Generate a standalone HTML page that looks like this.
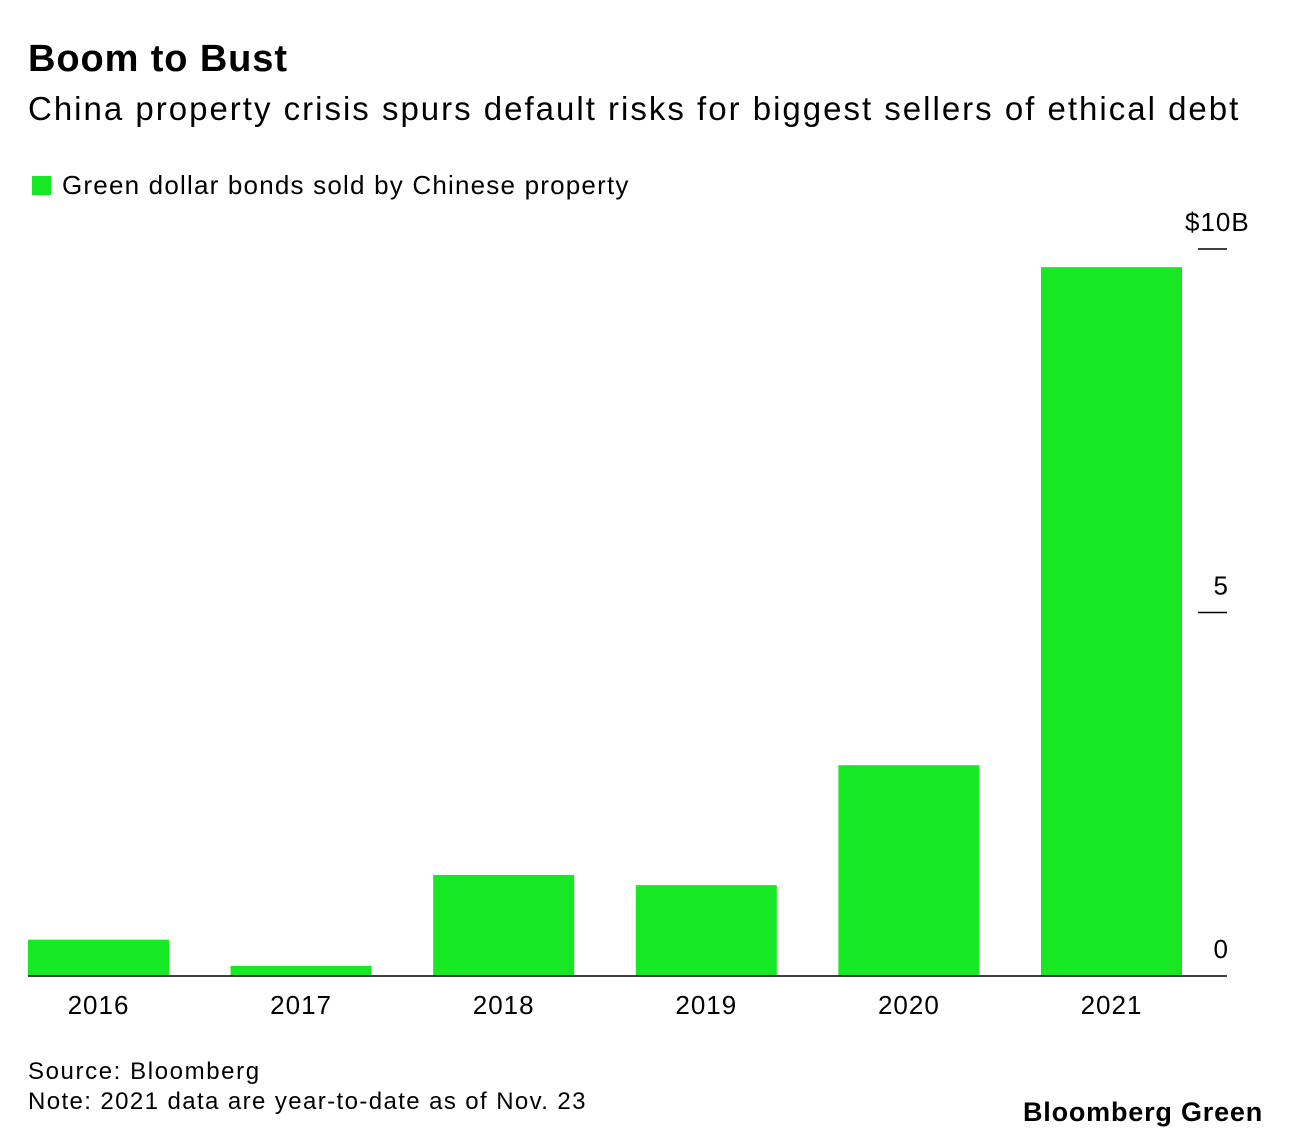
<!DOCTYPE html>
<html><head><meta charset="utf-8">
<style>
body{margin:0;background:#fff;width:1291px;height:1142px;overflow:hidden;font-family:"Liberation Sans",sans-serif;color:#000}
.t{position:absolute;white-space:nowrap}
</style></head>
<body>
<div class="t" style="left:28px;top:38px;font-size:38px;font-weight:bold;letter-spacing:0.9px">Boom to Bust</div>
<div class="t" style="left:28px;top:90px;font-size:33px;letter-spacing:2px">China property crisis spurs default risks for biggest sellers of ethical debt</div>
<div class="t" style="left:32px;top:170px;font-size:26px;letter-spacing:1.2px"><span style="display:inline-block;width:19px;height:19px;background:#16e823;margin-right:11px;vertical-align:-1px"></span>Green dollar bonds sold by Chinese property</div>
<svg id="chart" width="1291" height="1142" style="position:absolute;left:0;top:0"></svg>
<div class="t" style="left:28px;top:1058px;font-size:24px;letter-spacing:1.6px">Source: Bloomberg</div>
<div class="t" style="left:28px;top:1088px;font-size:24px;letter-spacing:1.4px">Note: 2021 data are year-to-date as of Nov. 23</div>
<div class="t" style="left:1023px;top:1097px;font-size:27px;font-weight:bold;letter-spacing:0.8px">Bloomberg Green</div>
<script>
const categories=["2016","2017","2018","2019","2020","2021"];
const values=[0.5,0.14,1.39,1.25,2.9,9.75];
const tickValues=[0,5,10];
const tickLabels=["0","5","$10B"];
const NS="http://www.w3.org/2000/svg";
const svg=document.getElementById('chart');
const y0=976,pxPerUnit=72.7;
function y(v){return y0-v*pxPerUnit;}
function x(i){return 28+i*202.6;}
const bw=141;
function mk(t,a){const e=document.createElementNS(NS,t);for(const k in a)e.setAttribute(k,a[k]);svg.appendChild(e);return e;}
values.forEach((v,i)=>{
  const r=mk('rect',{x:x(i),y:y(v),width:bw,height:y0-y(v),fill:'#16e823'});
  
  
  const t=mk('text',{x:x(i)+bw/2,y:1014,'text-anchor':'middle','font-size':26,'letter-spacing':1,'font-family':'Liberation Sans, sans-serif'});
  t.textContent=categories[i];
  
  
});
tickValues.forEach((v,i)=>{
  if(v!==0){
    const l=mk('line',{x1:1198,x2:1227,y1:y(v),y2:y(v),stroke:'#000','stroke-width':1.5});
    
    
  }
  const lab=tickLabels[i];
  const isUnit=lab.charAt(0)==='$';
  const t=mk('text',{x:isUnit?1185:1228,y:y(v)-18,'text-anchor':isUnit?'start':'end','font-size':26,'letter-spacing':isUnit?1:0,'font-family':'Liberation Sans, sans-serif'});
  t.textContent=lab;
  
  
});
const b=mk('line',{x1:28,x2:1227,y1:y0,y2:y0,stroke:'#000','stroke-width':1.5});


</script>
</body></html>
